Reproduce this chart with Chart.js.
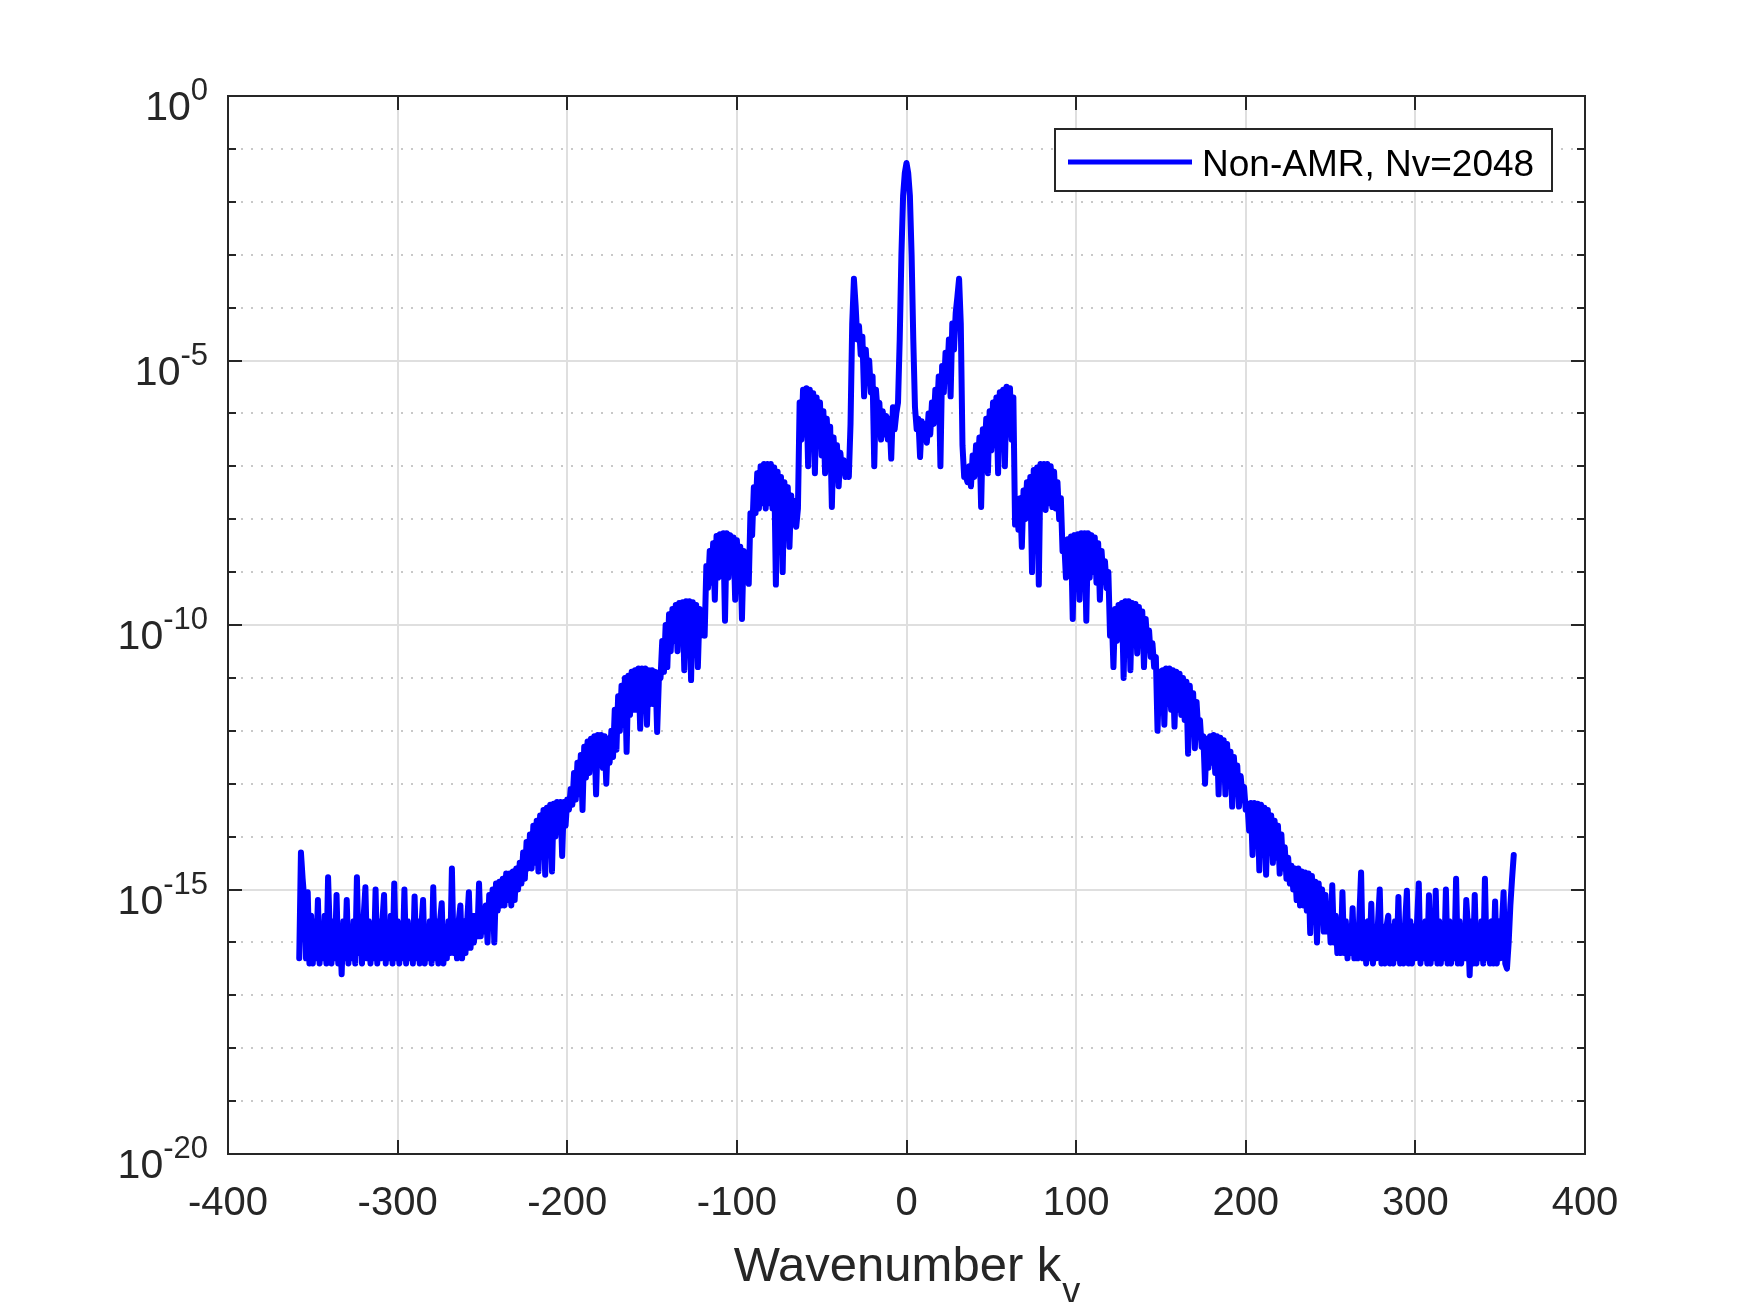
<!DOCTYPE html>
<html><head><meta charset="utf-8">
<script src="https://cdn.jsdelivr.net/npm/chart.js@4/dist/chart.umd.min.js"></script>
<style>html,body{margin:0;padding:0;background:#fff}canvas{display:block}</style>
</head><body>
<canvas id="c" width="1750" height="1302"></canvas>
<script>
// ---- data (uniform grid in k_v, step 1) ----
const kStart = -358;
const kStep = 1;

// k = -358 .. -247
const floorLeft = [
5.0e-17,5.0e-15,1.6e-15,6.3e-16,5.0e-17,8.9e-16,4.0e-17,3.2e-16,4.0e-17,2.5e-16,
5.0e-17,6.3e-16,4.0e-17,2.0e-16,5.0e-17,3.2e-16,4.0e-17,1.7e-15,1.6e-16,4.0e-17,
2.5e-16,5.0e-17,7.9e-16,4.0e-17,2.0e-16,2.5e-17,2.5e-16,5.0e-17,6.3e-16,4.0e-17,
2.0e-16,5.0e-17,2.5e-16,4.0e-17,1.7e-15,6.3e-17,2.5e-16,4.0e-17,3.2e-16,1.1e-15,
5.0e-17,2.5e-16,4.0e-17,2.0e-16,5.0e-17,1.0e-15,4.0e-17,2.5e-16,5.0e-17,2.5e-16,
7.9e-16,4.0e-17,2.0e-16,5.0e-17,3.2e-16,4.0e-17,1.3e-15,5.0e-17,2.5e-16,4.0e-17,
2.0e-16,5.0e-17,1.0e-15,4.0e-17,2.5e-16,5.0e-17,2.0e-16,4.0e-17,7.4e-16,5.0e-17,
2.5e-16,4.0e-17,2.0e-16,6.3e-16,4.0e-17,2.0e-16,5.0e-17,2.5e-16,4.0e-17,1.1e-15,
5.0e-17,2.5e-16,4.0e-17,2.5e-16,5.5e-16,4.0e-17,2.0e-16,5.0e-17,2.5e-16,6.3e-17,
2.5e-15,6.3e-17,2.5e-16,5.0e-17,2.5e-16,5.0e-16,5.0e-17,2.5e-16,6.3e-17,2.5e-16,
8.9e-16,7.9e-17,3.2e-16,1.0e-16,3.2e-16,1.3e-16,1.3e-15,1.3e-16,4.0e-16,1.6e-16,
5.0e-16,1.0e-16
];

// k = -246 .. -36
const bumpsLeft = [
7.9e-16,2.5e-16,1.0e-15,1.0e-16,1.3e-15,4.0e-16,1.4e-15,5.0e-16,1.6e-15,5.0e-16,
2.0e-15,6.3e-16,2.0e-15,5.0e-16,2.2e-15,6.3e-16,2.5e-15,1.0e-15,3.2e-15,1.3e-15,
5.0e-15,1.6e-15,7.9e-15,2.5e-15,1.1e-14,2.5e-15,1.6e-14,3.2e-15,2.0e-14,2.2e-15,
2.5e-14,5.0e-15,3.2e-14,1.9e-15,3.5e-14,6.3e-15,4.0e-14,2.2e-15,4.2e-14,1.0e-14,
4.5e-14,1.3e-14,4.5e-14,4.3e-15,4.5e-14,1.6e-14,5.0e-14,3.2e-14,7.9e-14,4.0e-14,
1.6e-13,5.0e-14,2.5e-13,6.3e-14,3.5e-13,3.2e-14,5.0e-13,1.3e-13,6.3e-13,1.6e-13,
7.1e-13,2.0e-13,7.9e-13,6.3e-14,8.3e-13,2.5e-13,8.3e-13,2.0e-13,7.9e-13,1.0e-13,
7.1e-13,2.5e-13,1.0e-12,3.2e-13,2.5e-12,4.4e-13,4.5e-12,1.0e-12,7.1e-12,1.3e-12,
1.0e-11,4.0e-13,1.1e-11,2.0e-12,1.3e-11,2.5e-12,1.4e-11,2.5e-12,1.5e-11,1.1e-12,
1.5e-11,3.2e-12,1.5e-11,1.3e-12,1.4e-11,3.2e-12,1.4e-11,3.2e-12,1.3e-11,9.5e-13,
9.1e-12,1.0e-11,5.0e-11,1.3e-11,1.0e-10,1.6e-11,1.6e-10,3.2e-11,2.0e-10,5.0e-11,
2.4e-10,3.2e-11,2.6e-10,5.0e-11,2.7e-10,1.4e-11,2.8e-10,6.3e-11,2.8e-10,9.1e-12,
2.7e-10,6.3e-11,2.4e-10,1.6e-11,2.0e-10,6.3e-11,1.4e-10,6.3e-11,1.3e-9,5.0e-10,
2.5e-9,6.3e-10,3.5e-9,3.0e-10,4.8e-9,7.9e-10,5.2e-9,1.0e-9,5.4e-9,1.2e-10,
5.4e-9,7.9e-10,5.0e-9,1.0e-9,4.5e-9,3.0e-10,4.0e-9,7.9e-10,3.0e-9,1.3e-10,
2.5e-9,1.0e-9,2.0e-9,6.0e-10,1.3e-8,5.0e-9,4.0e-8,1.3e-8,7.4e-8,1.6e-8,
1.0e-7,2.0e-8,1.1e-7,1.6e-8,1.1e-7,2.0e-8,1.1e-7,1.6e-8,9.5e-8,5.8e-10,
7.9e-8,1.3e-8,6.3e-8,1.0e-9,5.0e-8,1.0e-8,4.0e-8,3.0e-9,2.8e-8,7.9e-9,
2.2e-8,7.2e-9,1.6e-8,1.6e-6,3.2e-7,2.8e-6,4.0e-7,3.0e-6,1.0e-7,2.8e-6,
3.2e-7,2.4e-6,7.4e-8,2.0e-6,2.5e-7,1.6e-6,1.6e-7,1.1e-6,7.4e-8,7.9e-7,
1.6e-7,5.6e-7,1.7e-8,3.5e-7,1.0e-7,2.5e-7,4.2e-8,1.8e-7,7.9e-8,1.3e-7,
6.3e-8
];

// k = -35 .. 33
const centre = [
1.0e-7,6.3e-8,6.3e-7,5.0e-5,3.5e-4,1.1e-4,2.5e-5,4.5e-5,1.3e-5,2.8e-5,
2.1e-6,1.6e-5,5.0e-6,1.0e-5,2.5e-6,5.0e-6,1.0e-7,2.8e-6,1.0e-6,1.6e-6,
3.2e-7,1.1e-6,4.0e-7,8.9e-7,3.2e-7,7.9e-7,1.4e-7,1.3e-6,5.0e-7,1.0e-6,
1.6e-6,2.5e-5,1.0e-3,1.3e-2,3.5e-2,5.4e-2,3.5e-2,1.3e-2,1.0e-3,2.5e-5,
1.3e-6,5.0e-7,7.9e-7,1.5e-7,7.1e-7,3.2e-7,6.3e-7,2.8e-7,1.0e-6,4.0e-7,
1.6e-6,6.3e-7,2.8e-6,1.0e-6,5.0e-6,1.0e-7,7.9e-6,2.5e-6,1.4e-5,5.0e-6,
2.5e-5,2.1e-6,5.0e-5,1.6e-5,7.9e-5,1.6e-4,3.5e-4,5.0e-5,2.5e-7
];

// k = 34 .. 250
const bumpsRight = [
6.3e-8,6.3e-8,5.0e-8,1.0e-7,4.2e-8,1.6e-7,6.3e-8,2.5e-7,1.0e-7,3.5e-7,
1.7e-8,5.0e-7,1.6e-7,7.9e-7,7.4e-8,1.1e-6,2.0e-7,1.6e-6,2.5e-7,2.0e-6,
7.4e-8,2.5e-6,3.2e-7,2.8e-6,1.0e-7,3.2e-6,4.0e-7,3.0e-6,3.2e-7,2.0e-6,
7.9e-9,1.6e-8,6.3e-9,2.5e-8,3.0e-9,3.5e-8,1.0e-8,5.0e-8,1.3e-8,6.3e-8,
1.0e-9,8.5e-8,1.3e-8,9.5e-8,5.8e-10,1.1e-7,1.6e-8,1.1e-7,1.5e-8,1.1e-7,
2.0e-8,1.0e-7,1.7e-8,7.9e-8,1.6e-8,5.0e-8,1.0e-8,2.5e-8,2.5e-9,3.5e-9,
7.9e-10,4.2e-9,1.0e-9,4.7e-9,1.3e-10,5.0e-9,7.9e-10,5.2e-9,3.0e-10,5.4e-9,
1.0e-9,5.4e-9,1.2e-10,5.4e-9,7.9e-10,5.0e-9,1.0e-9,4.5e-9,6.3e-10,3.5e-9,
3.0e-10,2.5e-9,7.9e-10,1.6e-9,5.0e-10,1.0e-9,6.3e-11,1.6e-10,1.6e-11,2.0e-10,
5.0e-11,2.4e-10,6.3e-11,2.6e-10,1.0e-11,2.8e-10,5.0e-11,2.8e-10,1.4e-11,2.6e-10,
6.3e-11,2.5e-10,2.9e-11,2.2e-10,6.3e-11,1.8e-10,1.6e-11,1.3e-10,4.0e-11,7.9e-11,
2.5e-11,4.5e-11,1.6e-11,2.5e-11,1.0e-12,1.3e-11,3.2e-12,1.4e-11,1.3e-12,1.5e-11,
3.2e-12,1.5e-11,2.5e-12,1.4e-11,1.2e-12,1.3e-11,2.5e-12,1.2e-11,2.0e-12,1.0e-11,
1.6e-12,8.5e-12,3.7e-13,7.1e-12,1.3e-12,5.1e-12,4.7e-13,3.5e-12,1.0e-12,1.6e-12,
5.0e-13,7.9e-13,1.0e-13,7.1e-13,2.0e-13,7.9e-13,2.5e-13,8.3e-13,1.6e-13,7.9e-13,
6.3e-14,7.4e-13,1.6e-13,6.6e-13,6.3e-14,5.6e-13,1.3e-13,4.0e-13,3.7e-14,3.2e-13,
1.0e-13,2.2e-13,3.7e-14,1.4e-13,6.3e-14,8.7e-14,3.2e-14,4.2e-14,1.3e-14,4.3e-14,
4.5e-15,4.3e-14,1.0e-14,4.2e-14,2.3e-15,4.0e-14,7.9e-15,3.5e-14,1.9e-15,3.2e-14,
6.3e-15,2.5e-14,3.2e-15,2.0e-14,4.0e-15,1.6e-14,2.0e-15,1.1e-14,2.5e-15,6.3e-15,
1.6e-15,4.0e-15,1.3e-15,2.8e-15,1.0e-15,2.5e-15,6.3e-16,2.5e-15,5.0e-16,2.2e-15,
5.0e-16,2.1e-15,4.0e-16,2.0e-15,1.5e-16,1.8e-15,3.2e-16,1.4e-15,1.0e-16,1.3e-15,
2.5e-16,1.0e-15,1.6e-16,7.9e-16,1.6e-16,5.0e-16,1.0e-16
];

// k = 251 .. 358
const floorRight = [
1.2e-15,1.0e-16,3.2e-16,6.3e-17,2.5e-16,6.3e-17,8.9e-16,6.3e-17,2.5e-16,5.0e-17,
2.0e-16,6.3e-17,4.4e-16,5.0e-17,2.0e-16,5.0e-17,3.2e-16,2.1e-15,5.0e-17,2.0e-16,
4.0e-17,2.5e-16,5.0e-17,5.4e-16,4.0e-17,2.0e-16,5.0e-17,2.5e-16,1.0e-15,4.0e-17,
2.0e-16,4.0e-17,2.0e-16,3.2e-16,4.0e-17,2.0e-16,4.0e-17,2.5e-16,5.0e-17,7.2e-16,
4.0e-17,2.0e-16,4.0e-17,2.5e-16,9.5e-16,4.0e-17,2.5e-16,4.0e-17,2.0e-16,5.0e-17,
2.5e-16,1.3e-15,4.0e-17,2.0e-16,5.0e-17,2.5e-16,4.0e-17,7.8e-16,4.0e-17,2.0e-16,
5.0e-17,9.5e-16,4.0e-17,2.5e-16,4.0e-17,2.0e-16,5.0e-17,1.0e-15,4.0e-17,2.5e-16,
4.0e-17,2.0e-16,5.0e-17,1.6e-15,4.0e-17,2.5e-16,4.0e-17,2.0e-16,5.0e-17,6.3e-16,
2.0e-16,2.4e-17,2.5e-16,4.0e-17,7.9e-16,4.0e-17,2.0e-16,5.0e-17,2.5e-16,4.0e-17,
1.6e-15,5.0e-17,2.0e-16,4.0e-17,2.5e-16,4.0e-17,5.9e-16,4.0e-17,2.5e-16,5.0e-17,
2.0e-16,8.9e-16,4.0e-17,3.2e-17,1.0e-16,5.0e-16,1.6e-15,4.5e-15
];

const seriesLabel = 'Non-AMR, Nv=2048';
const xTickValues = [-400, -300, -200, -100, 0, 100, 200, 300, 400];
const xTickLabels = ['-400', '-300', '-200', '-100', '0', '100', '200', '300', '400'];
const yMajorValues = [1e0, 1e-5, 1e-10, 1e-15, 1e-20];
const yMajorExponents = ['0', '-5', '-10', '-15', '-20'];
const yMinorValues = [1e-1, 1e-2, 1e-3, 1e-4, 1e-6, 1e-7, 1e-8, 1e-9,
                      1e-11, 1e-12, 1e-13, 1e-14, 1e-16, 1e-17, 1e-18, 1e-19];
const xTitle = 'Wavenumber k';
const xTitleSub = 'v';

const power = [].concat(floorLeft, bumpsLeft, centre, bumpsRight, floorRight);
const points = power.map((p, i) => ({ x: kStart + i * kStep, y: p }));

const FONT = '"Liberation Sans", Arial, Helvetica, sans-serif';
const AXIS = '#262626';

const matlabLook = {
  id: 'matlabLook',
  beforeDatasetsDraw(chart) {
    const { ctx, chartArea: a } = chart;
    const xs = chart.scales.x, ys = chart.scales.y;
    ctx.save();
    ctx.lineWidth = 2;
    ctx.strokeStyle = '#c8c8c8';
    ctx.setLineDash([2, 8]);
    yMinorValues.forEach(v => {
      const py = Math.round(ys.getPixelForValue(v));
      ctx.beginPath(); ctx.moveTo(a.left + 3, py); ctx.lineTo(a.right, py); ctx.stroke();
    });
    ctx.setLineDash([]);
    ctx.strokeStyle = '#dfdfdf';
    xTickValues.forEach(v => {
      const px = Math.round(xs.getPixelForValue(v));
      ctx.beginPath(); ctx.moveTo(px, a.top); ctx.lineTo(px, a.bottom); ctx.stroke();
    });
    yMajorValues.forEach(v => {
      const py = Math.round(ys.getPixelForValue(v));
      ctx.beginPath(); ctx.moveTo(a.left, py); ctx.lineTo(a.right, py); ctx.stroke();
    });
    ctx.restore();
  },
  afterDatasetsDraw(chart) {
    const { ctx, chartArea: a } = chart;
    const xs = chart.scales.x, ys = chart.scales.y;
    ctx.save();
    // axes box
    ctx.strokeStyle = AXIS;
    ctx.lineWidth = 2;
    ctx.strokeRect(a.left, a.top, a.right - a.left, a.bottom - a.top);
    // ticks (inward, on all four sides)
    const major = 14, minor = 8;
    ctx.beginPath();
    xTickValues.forEach(v => {
      const px = Math.round(xs.getPixelForValue(v));
      ctx.moveTo(px, a.bottom); ctx.lineTo(px, a.bottom - major);
      ctx.moveTo(px, a.top); ctx.lineTo(px, a.top + major);
    });
    yMajorValues.forEach(v => {
      const py = Math.round(ys.getPixelForValue(v));
      ctx.moveTo(a.left, py); ctx.lineTo(a.left + major, py);
      ctx.moveTo(a.right, py); ctx.lineTo(a.right - major, py);
    });
    yMinorValues.forEach(v => {
      const py = Math.round(ys.getPixelForValue(v));
      ctx.moveTo(a.left, py); ctx.lineTo(a.left + minor, py);
      ctx.moveTo(a.right, py); ctx.lineTo(a.right - minor, py);
    });
    ctx.stroke();

    // x tick labels
    ctx.fillStyle = AXIS;
    ctx.font = '40px ' + FONT;
    ctx.textAlign = 'center';
    ctx.textBaseline = 'alphabetic';
    xTickValues.forEach((v, i) => {
      ctx.fillText(xTickLabels[i], xs.getPixelForValue(v), a.bottom + 61);
    });

    // y tick labels: 10^e
    const rightX = a.left - 20;
    yMajorValues.forEach((v, i) => {
      const py = ys.getPixelForValue(v);
      ctx.textAlign = 'right';
      ctx.font = '31px ' + FONT;
      const supW = ctx.measureText(yMajorExponents[i]).width;
      ctx.fillText(yMajorExponents[i], rightX, py + 4);
      ctx.font = '41px ' + FONT;
      ctx.fillText('10', rightX - supW, py + 24);
    });

    // x axis title with subscript
    ctx.font = '49px ' + FONT;
    const w1 = ctx.measureText(xTitle).width;
    ctx.font = '36px ' + FONT;
    const w2 = ctx.measureText(xTitleSub).width;
    const cx = (a.left + a.right) / 2;
    const x0 = cx - (w1 + w2) / 2;
    ctx.textAlign = 'left';
    ctx.font = '49px ' + FONT;
    ctx.fillText(xTitle, x0, 1281);
    ctx.font = '36px ' + FONT;
    ctx.fillText(xTitleSub, x0 + w1 + 1, 1303);

    // legend box
    const ds = chart.data.datasets[0];
    const lx = 1055, ly = 129, lw = 497, lh = 62;
    ctx.fillStyle = '#ffffff';
    ctx.fillRect(lx, ly, lw, lh);
    ctx.strokeStyle = AXIS;
    ctx.lineWidth = 2;
    ctx.strokeRect(lx, ly, lw, lh);
    ctx.strokeStyle = ds.borderColor;
    ctx.lineWidth = 5;
    ctx.beginPath(); ctx.moveTo(lx + 13, ly + 33); ctx.lineTo(lx + 137, ly + 33); ctx.stroke();
    ctx.fillStyle = '#000000';
    ctx.font = '37px ' + FONT;
    ctx.textAlign = 'left';
    ctx.fillText(ds.label, lx + 147, ly + 47);
    ctx.restore();
  }
};

new Chart(document.getElementById('c'), {
  type: 'line',
  data: {
    datasets: [{
      label: seriesLabel,
      data: points,
      borderColor: '#0000ff',
      borderWidth: 6,
      pointRadius: 0,
      tension: 0,
      fill: false,
      borderJoinStyle: 'round',
      borderCapStyle: 'round'
    }]
  },
  options: {
    responsive: false,
    animation: false,
    devicePixelRatio: 1,
    parsing: false,
    layout: { padding: { left: 228, right: 165, top: 96, bottom: 148 } },
    plugins: { legend: { display: false }, tooltip: { enabled: false } },
    scales: {
      x: { type: 'linear', min: -400, max: 400, display: false },
      y: { type: 'logarithmic', min: 1e-20, max: 1, display: false }
    }
  },
  plugins: [matlabLook]
});
</script>
</body></html>
